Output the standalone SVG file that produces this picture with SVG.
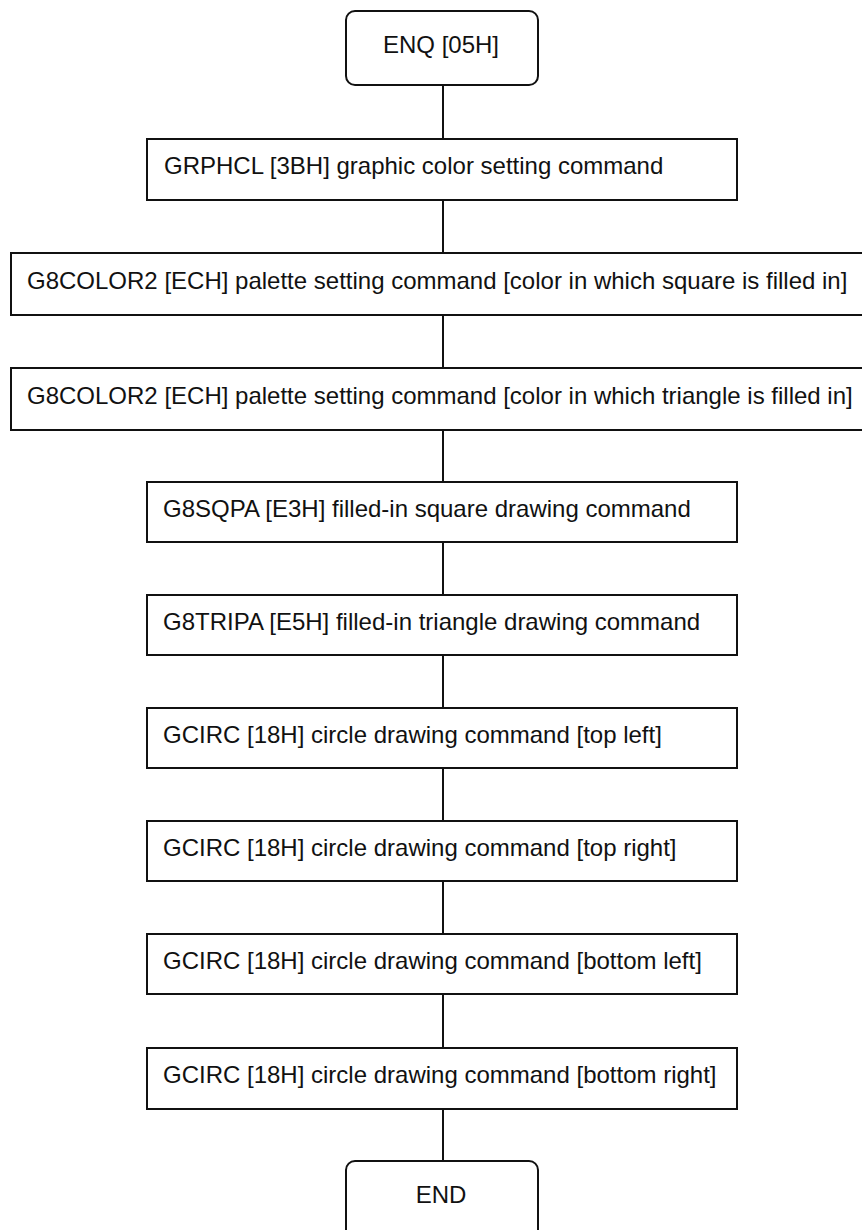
<svg xmlns="http://www.w3.org/2000/svg" width="862" height="1230" viewBox="0 0 862 1230">
<style>
.box{fill:#fff;stroke:#111;stroke-width:2}
.t{font-family:"Liberation Sans",Arial,sans-serif;font-size:24px;fill:#111}
.c{text-anchor:middle}
.conn{stroke:#111;stroke-width:2;fill:none}
</style>
<rect width="862" height="1230" fill="#fff"/>
<g id="connectors">
<line class="conn" x1="443" y1="85" x2="443" y2="139"/>
<line class="conn" x1="443" y1="200" x2="443" y2="253"/>
<line class="conn" x1="443" y1="315" x2="443" y2="368"/>
<line class="conn" x1="443" y1="430" x2="443" y2="482"/>
<line class="conn" x1="443" y1="542" x2="443" y2="595"/>
<line class="conn" x1="443" y1="655" x2="443" y2="708"/>
<line class="conn" x1="443" y1="768" x2="443" y2="821"/>
<line class="conn" x1="443" y1="881" x2="443" y2="934"/>
<line class="conn" x1="443" y1="994" x2="443" y2="1048"/>
<line class="conn" x1="443" y1="1109" x2="443" y2="1161"/>
</g>
<g id="enq">
<rect class="box" x="346" y="11" width="192" height="74" rx="9"/>
<text class="t c" x="441" y="53">ENQ [05H]</text>
</g>
<g id="grphcl">
<rect class="box" x="147" y="139" width="590" height="61"/>
<text class="t" x="164" y="174">GRPHCL [3BH] graphic color setting command</text>
</g>
<g id="g8color2-square">
<rect class="box" x="11" y="253" width="870" height="62"/>
<text class="t" x="27" y="289">G8COLOR2 [ECH] palette setting command [color in which square is filled in]</text>
</g>
<g id="g8color2-triangle">
<rect class="box" x="11" y="368" width="870" height="62"/>
<text class="t" x="27" y="404">G8COLOR2 [ECH] palette setting command [color in which triangle is filled in]</text>
</g>
<g id="g8sqpa">
<rect class="box" x="147" y="482" width="590" height="60"/>
<text class="t" x="163" y="517">G8SQPA [E3H] filled-in square drawing command</text>
</g>
<g id="g8tripa">
<rect class="box" x="147" y="595" width="590" height="60"/>
<text class="t" x="163" y="630">G8TRIPA [E5H] filled-in triangle drawing command</text>
</g>
<g id="gcirc-top-left">
<rect class="box" x="147" y="708" width="590" height="60"/>
<text class="t" x="163" y="743">GCIRC [18H] circle drawing command [top left]</text>
</g>
<g id="gcirc-top-right">
<rect class="box" x="147" y="821" width="590" height="60"/>
<text class="t" x="163" y="856">GCIRC [18H] circle drawing command [top right]</text>
</g>
<g id="gcirc-bottom-left">
<rect class="box" x="147" y="934" width="590" height="60"/>
<text class="t" x="163" y="969">GCIRC [18H] circle drawing command [bottom left]</text>
</g>
<g id="gcirc-bottom-right">
<rect class="box" x="147" y="1048" width="590" height="61"/>
<text class="t" x="163" y="1083">GCIRC [18H] circle drawing command [bottom right]</text>
</g>
<g id="end">
<rect class="box" x="346" y="1161" width="192" height="90" rx="9"/>
<text class="t c" x="441" y="1203">END</text>
</g>
</svg>
